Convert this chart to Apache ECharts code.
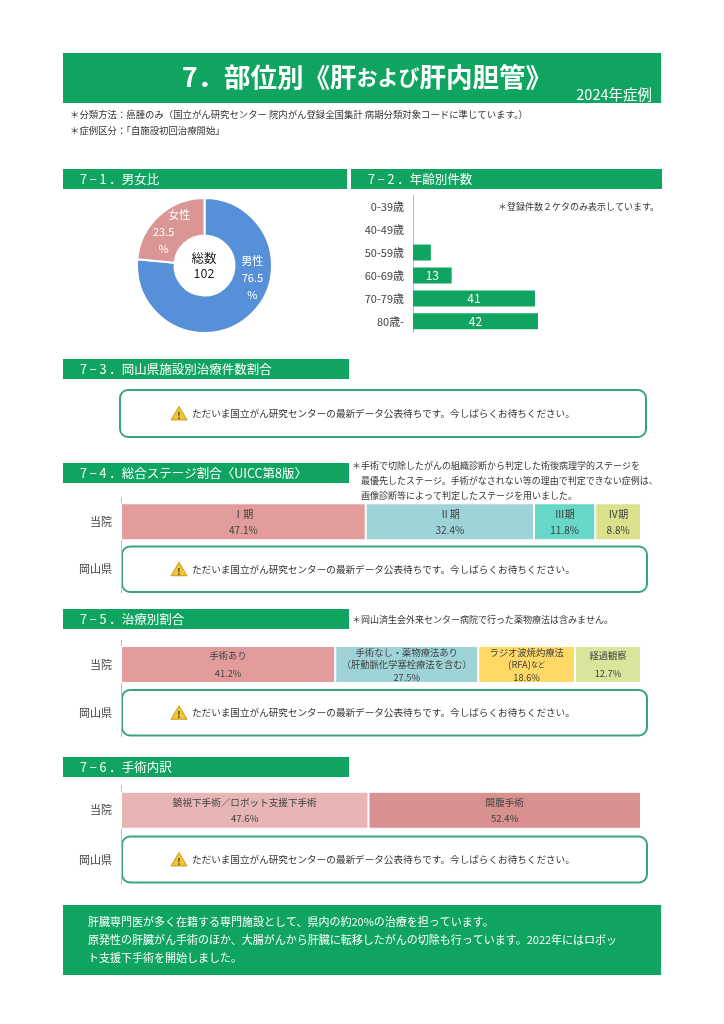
<!DOCTYPE html>
<html><head><meta charset="utf-8">
<script src="https://cdn.jsdelivr.net/npm/echarts@6/dist/echarts.min.js"></script>
<style>html,body{margin:0;padding:0;background:#fff}#c{width:724px;height:1024px}</style>
</head><body><div id="c"></div>
<script>
// ---------- data ----------
const sexNames = ['男性', '女性'];
const sexPercent = [76.5, 23.5];
const totalCases = 102;

const ageCategories = ['0-39歳', '40-49歳', '50-59歳', '60-69歳', '70-79歳', '80歳-'];
const ageCounts = [0, 0, 6, 13, 41, 42];

const rowCategories = ['当院', '岡山県'];

const stageNames = ['Ⅰ期', 'Ⅱ期', 'Ⅲ期', 'Ⅳ期'];
const stagePercent = [47.1, 32.4, 11.8, 8.8];

const treatNames = ['手術あり', '手術なし・薬物療法あり\n（肝動脈化学塞栓療法を含む）', 'ラジオ波焼灼療法\n(RFA)など', '経過観察'];
const treatPercent = [41.2, 27.5, 18.6, 12.7];

const surgNames = ['鏡視下手術／ロボット支援下手術', '開腹手術'];
const surgPercent = [47.6, 52.4];

// ---------- styles ----------
const FONT = '"Noto Sans CJK JP","Noto Sans",sans-serif';
const GREEN = '#0FA45F';
const BOXLINE = '#3AA37C';
const sexColors = ['#5690D8', '#D99694'];
const sexLabelShift = [[13, -26], [-6, 5]];
const sexNameIndent = [0, 31];
const stageColors = ['#E39C9C', '#9ED3D7', '#67D8C8', '#DCE28C'];
const treatColors = ['#E39C9C', '#9ED3D7', '#FFD966', '#D9E59B'];
const surgColors = ['#E8B5B5', '#D99090'];

const chart = echarts.init(document.getElementById('c'), null, {renderer: 'canvas'});

function T(x, y, text, o) {
  o = o || {};
  const al = o.al || 'left', va = o.va || 'middle';
  const st = {text: text, fill: o.fill || '#333', fontSize: o.fs || 10, fontFamily: FONT,
    fontWeight: o.fw || 'normal', textAlign: al, align: al, textVerticalAlign: va, verticalAlign: va};
  if (o.lh) st.lineHeight = o.lh;
  if (o.rich) st.rich = o.rich;
  return {type: 'text', x: x, y: y, silent: true, style: st};
}
function R(x, y, w, h, fill, o) {
  o = o || {};
  return {type: 'rect', silent: true, shape: {x: x, y: y, width: w, height: h, r: o.r || 0},
    style: {fill: fill, stroke: o.stroke || null, lineWidth: o.lw || 0}};
}
function header(x, y, w, label) {
  return [R(x, y, w, 20, GREEN), T(x + 17, y + 10.5, label, {fill: '#fff', fs: 12.5})];
}
const WAIT = 'ただいま国立がん研究センターの最新データ公表待ちです。今しばらくお待ちください。';
function notice(x, y, w, h) {
  const cy = y + h / 2;
  return [
    R(x, y, w, h, '#fff', {r: 8, stroke: BOXLINE, lw: 2}),
    {type: 'polygon', silent: true, shape: {points: [[179, cy - 7], [171, cy + 6.5], [187, cy + 6.5]]},
      style: {fill: '#F6C533', stroke: '#B88A00', lineWidth: 0.8, lineJoin: 'round'}},
    T(179, cy + 2, '!', {fs: 9, fw: 'bold', al: 'center', fill: '#333'}),
    T(192, cy, WAIT, {fs: 9.6, fill: '#333'})
  ];
}

let g = [];
// title banner
g.push(R(63, 53, 598, 50, GREEN));
g.push(T(367, 77, '{a|7．部位別《肝}{b|および}{a|肝内胆管》}', {al: 'center', fill: '#fff',
  rich: {a: {fontSize: 26.5, fontWeight: 'bold', fill: '#fff', fontFamily: FONT},
         b: {fontSize: 21, fontWeight: 'bold', fill: '#fff', fontFamily: FONT}}}));
g.push(T(652, 94, '2024年症例', {al: 'right', fill: '#fff', fs: 14.5}));
g.push(T(70, 114, '＊分類方法：癌腫のみ（国立がん研究センター 院内がん登録全国集計 病期分類対象コードに準じています。）', {fs: 9.4}));
g.push(T(70, 130, '＊症例区分：「自施設初回治療開始」', {fs: 9.4}));

g = g.concat(header(63, 169, 284, '7 − 1 ．男女比'));
g = g.concat(header(351, 169, 311, '7 − 2 ．年齢別件数'));
g.push(T(498, 207, '＊登録件数２ケタのみ表示しています。', {fs: 9}));
g.push(T(204, 266, '総数\n' + totalCases, {al: 'center', fs: 12.5, lh: 15, fill: '#222'}));

g = g.concat(header(63, 359, 286, '7 − 3 ．岡山県施設別治療件数割合'));
g = g.concat(notice(120, 390, 526, 47));

g = g.concat(header(63, 463, 286, '7 − 4 ．総合ステージ割合〈UICC第8版〉'));
g.push(T(352, 481, '＊手術で切除したがんの組織診断から判定した術後病理学的ステージを\n　最優先したステージ。手術がなされない等の理由で判定できない症例は、\n　画像診断等によって判定したステージを用いました。', {fs: 9, lh: 15}));
g = g.concat(notice(122, 546.5, 525, 45.5));

g = g.concat(header(63, 609, 286, '7 − 5 ．治療別割合'));
g.push(T(352, 620, '＊岡山済生会外来センター病院で行った薬物療法は含みません。', {fs: 9}));
g = g.concat(notice(122, 690, 525, 45.5));

g = g.concat(header(63, 757, 286, '7 − 6 ．手術内訳'));
g = g.concat(notice(122, 836.5, 525, 46));

g.push(R(63, 905, 598, 70, GREEN));
g.push(T(88, 913, '肝臓専門医が多く在籍する専門施設として、県内の約20%の治療を担っています。\n原発性の肝臓がん手術のほか、大腸がんから肝臓に転移したがんの切除も行っています。2022年にはロボッ\nト支援下手術を開始しました。', {fs: 11, lh: 18, va: 'top', fill: '#fff'}));

// ---------- axes ----------
const sum = a => a.reduce((s, v) => s + v, 0);
const catAxisBase = {
  type: 'category', inverse: true,
  axisLine: {show: true, lineStyle: {color: '#BFBFBF', width: 1}},
  axisTick: {show: false},
  axisLabel: {color: '#404040', fontSize: 11, fontFamily: FONT, margin: 9}
};
const grids = [
  {left: 413, top: 195.2, width: 238, height: 137.6},
  {left: 121, top: 498, width: 520, height: 95},
  {left: 121, top: 640.5, width: 520, height: 96},
  {left: 121, top: 785.5, width: 520, height: 99}
];
const xAxes = [
  {gridIndex: 0, type: 'value', min: 0, max: 80, show: false},
  {gridIndex: 1, type: 'value', min: 0, max: sum(stagePercent), show: false},
  {gridIndex: 2, type: 'value', min: 0, max: sum(treatPercent), show: false},
  {gridIndex: 3, type: 'value', min: 0, max: sum(surgPercent), show: false}
];
const yAxes = [
  Object.assign({}, catAxisBase, {gridIndex: 0, data: ageCategories}),
  Object.assign({}, catAxisBase, {gridIndex: 1, data: rowCategories}),
  Object.assign({}, catAxisBase, {gridIndex: 2, data: rowCategories}),
  Object.assign({}, catAxisBase, {gridIndex: 3, data: rowCategories})
];

function stackSeries(names, values, colors, idx, fs, lhFn) {
  return names.map((n, i) => ({
    type: 'bar', name: n, stack: 's' + idx, xAxisIndex: idx, yAxisIndex: idx,
    barWidth: 37, data: [values[i], '-'],
    itemStyle: {color: colors[i], borderColor: '#fff', borderWidth: 1},
    label: {
      show: true, position: 'inside', color: '#404040', fontSize: fs, fontFamily: FONT,
      lineHeight: lhFn(n),
      formatter: p => n.replace('など', '{s|など}') + '\n' + p.value.toFixed(1) + '%',
      rich: {s: {fontSize: 7, color: '#404040', fontFamily: FONT, lineHeight: lhFn(n)}}
    }
  }));
}

const pieRich = {};
sexNameIndent.forEach((v, i) => {
  pieRich['n' + i] = {color: '#fff', fontSize: 11, lineHeight: 17, fontFamily: FONT, padding: [0, 0, 0, v]};
});

let series = [];
series.push({
  type: 'pie', center: [204.5, 265.5], radius: [30, 67.5], startAngle: 90, clockwise: true,
  emphasis: {scale: false}, silent: true,
  itemStyle: {borderColor: '#fff', borderWidth: 2},
  label: {show: true, position: 'inside', rotate: 0, color: '#fff', fontSize: 11, lineHeight: 17,
    fontFamily: FONT, overflow: 'none', rich: pieRich,
    formatter: p => '{n' + p.dataIndex + '|' + p.name + '}\n' + p.value + '\n%'},
  labelLine: {show: false},
  labelLayout: p => ({dx: sexLabelShift[p.dataIndex][0], dy: sexLabelShift[p.dataIndex][1]}),
  data: sexNames.map((n, i) => ({name: n, value: sexPercent[i], itemStyle: {color: sexColors[i]}}))
});
series.push({
  type: 'bar', xAxisIndex: 0, yAxisIndex: 0, barWidth: 16, data: ageCounts,
  itemStyle: {color: GREEN},
  label: {show: true, position: 'inside', color: '#fff', fontSize: 12, fontFamily: FONT,
    formatter: p => (p.value >= 10 ? String(p.value) : '')}
});
series = series.concat(stackSeries(stageNames, stagePercent, stageColors, 1, 10, n => 16));
series = series.concat(stackSeries(treatNames, treatPercent, treatColors, 2, 9.3, n => (n.indexOf('\n') >= 0 ? 12.5 : 18)));
series = series.concat(stackSeries(surgNames, surgPercent, surgColors, 3, 9.6, n => 16));

chart.setOption({
  backgroundColor: '#fff',
  animation: false,
  textStyle: {fontFamily: FONT},
  grid: grids, xAxis: xAxes, yAxis: yAxes,
  series: series,
  graphic: {elements: g}
});
</script>
</body></html>
